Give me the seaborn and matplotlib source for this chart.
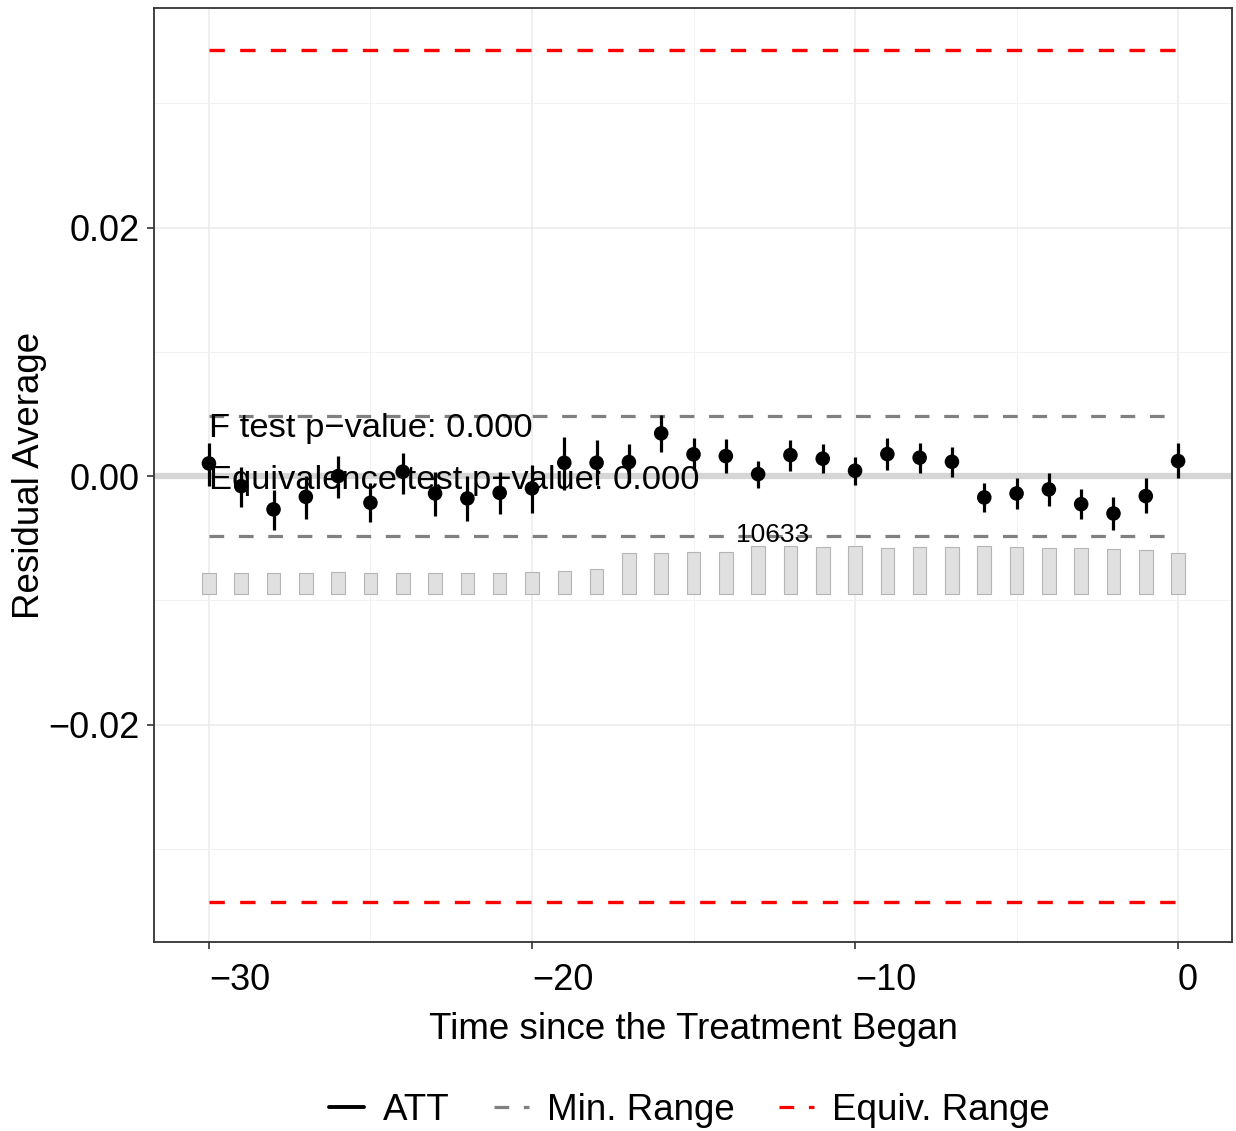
import numpy as np
import pandas as pd
import matplotlib
matplotlib.use("Agg")
import matplotlib.pyplot as plt
import seaborn as sns
from matplotlib.lines import Line2D
from matplotlib.ticker import FuncFormatter

# residual averages by period
periods = list(range(-30, 1))
att = [0.00102, -0.00081, -0.00268, -0.00167, 0.00000, -0.00215, 0.00035, -0.00140,
       -0.00180, -0.00135, -0.00099, 0.00107, 0.00107, 0.00113, 0.00344, 0.00175,
       0.00161, 0.00016, 0.00169, 0.00140, 0.00043, 0.00177, 0.00148, 0.00115,
       -0.00172, -0.00140, -0.00107, -0.00226, -0.00301, -0.00161, 0.00121]
ci_low = [-0.00081, -0.00247, -0.00435, -0.00349, -0.00180, -0.00371, -0.00148, -0.00320,
          -0.00360, -0.00309, -0.00301, -0.00113, -0.00073, -0.00059, 0.00196, 0.00048,
          0.00027, -0.00099, 0.00043, 0.00022, -0.00073, 0.00048, 0.00027, -0.00005,
          -0.00288, -0.00268, -0.00242, -0.00349, -0.00435, -0.00301, -0.00019]
ci_high = [0.00268, 0.00075, -0.00113, 0.00000, 0.00161, -0.00059, 0.00188, 0.00035,
           0.00000, 0.00035, 0.00089, 0.00317, 0.00290, 0.00258, 0.00492, 0.00309,
           0.00296, 0.00123, 0.00290, 0.00258, 0.00156, 0.00304, 0.00264, 0.00236,
           -0.00059, -0.00013, 0.00022, -0.00107, -0.00167, -0.00019, 0.00264]
# number of treated obs per period (bars)
counts = [4740, 4740, 4670, 4740, 4810, 4740, 4740, 4600, 4600, 4670,
          4960, 5100, 5540, 8970, 9120, 9190, 9340, 10633, 10600, 10500,
          10570, 10280, 10430, 10430, 10570, 10430, 10280, 10210, 9990, 9700, 8970]

min_range = 0.0048
equiv_range = 0.0343
f_pval = 0.000
equiv_pval = 0.000

df = pd.DataFrame({"period": periods, "att": att, "lo": ci_low, "hi": ci_high, "count": counts})

sns.set_theme(style="white")
plt.rcParams["font.family"] = ["Liberation Sans", "DejaVu Sans"]
plt.rcParams["text.color"] = "black"
plt.rcParams["axes.labelcolor"] = "black"

fig, ax = plt.subplots(figsize=(12.36, 11.31), dpi=100)
fig.subplots_adjust(left=0.1246, right=0.9968, top=0.9929, bottom=0.1671)

dash = (0, (4.6, 4.6))

# grid
ax.set_xticks([-25, -15, -5], minor=True)
ax.set_yticks([-0.03, -0.01, 0.01, 0.03], minor=True)
ax.grid(which="major", color="#ebebeb", linewidth=1.1)
ax.grid(which="minor", color="#f2f2f2", linewidth=0.7)
ax.set_axisbelow(True)

# count bars at the bottom
bar_base = -0.00952
bar_span = 0.0039
heights = df["count"] / df["count"].max() * bar_span
ax.bar(df["period"], heights, bottom=bar_base, width=0.42,
       color="#e0e0e0", edgecolor="#b5b5b5", linewidth=0.8, zorder=2)
imax = df["count"].idxmax()
ax.text(df["period"][imax] + 0.45, bar_base + bar_span + 0.0009, f"{df['count'].max()}",
        ha="center", va="center", fontsize=19, color="black", zorder=5)

# zero line
ax.axhline(0, color="#d6d6d6", linewidth=4.5, zorder=2)

# ranges
ax.hlines([min_range, -min_range], -30, 0, colors="#808080", linewidth=2.3,
          linestyles=dash, zorder=3)
ax.hlines([equiv_range, -equiv_range], -30, 0, colors="#ff0000", linewidth=2.4,
          linestyles=dash, zorder=3)

# estimates with CIs
ax.vlines(df["period"], df["lo"], df["hi"], color="black", linewidth=2.3, zorder=4)
sns.scatterplot(data=df, x="period", y="att", color="black", s=110, edgecolor="none",
                ax=ax, zorder=5, legend=False)

ax.text(-30, 0.00312, f"F test p\u2212value: {f_pval:.3f}", fontsize=24.8,
        ha="left", va="baseline", zorder=6)
ax.text(-30, -0.00107, f"Equivalence test p\u2212value: {equiv_pval:.3f}", fontsize=24.8,
        ha="left", va="baseline", zorder=6)

ax.set_xlim(-31.70, 1.67)
ax.set_ylim(-0.0375, 0.03767)
ax.set_xticks([-30, -20, -10, 0])
ax.set_yticks([-0.02, 0.0, 0.02])
ax.xaxis.set_major_formatter(FuncFormatter(lambda v, p: f"{v:.0f}".replace("-", "\u2212")))
ax.yaxis.set_major_formatter(FuncFormatter(lambda v, p: f"{v:.2f}".replace("-", "\u2212")))
ax.tick_params(axis="both", which="major", labelsize=26, length=5, width=1.2,
               color="#333333", labelcolor="black", bottom=True, left=True, pad=5)
ax.tick_params(axis="x", which="major", pad=10)
ax.tick_params(which="minor", length=0)
# x tick labels start at the tick (left-justified)
for lab in ax.get_xticklabels():
    lab.set_horizontalalignment("left")
for s in ax.spines.values():
    s.set_color("#333333")
    s.set_linewidth(1.3)

ax.set_xlabel("Time since the Treatment Began", fontsize=26.5, labelpad=10)
ax.set_ylabel("Residual Average", fontsize=26.5, labelpad=1)

handles = [
    Line2D([], [], color="black", linewidth=2.8),
    Line2D([], [], color="#808080", linewidth=2.3, linestyle=dash),
    Line2D([], [], color="#ff0000", linewidth=2.3, linestyle=dash),
]
fig.legend(handles, ["ATT", "Min. Range", "Equiv. Range"], loc="center",
           bbox_to_anchor=(0.558, 0.018), ncol=3, frameon=False, fontsize=26.5,
           handlelength=0.95, columnspacing=1.2, handletextpad=0.5)

fig.savefig("out.png", dpi=100)
